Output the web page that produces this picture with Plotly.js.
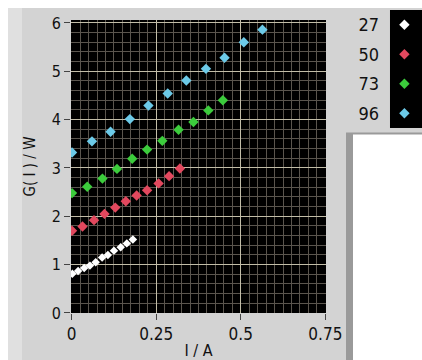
<!DOCTYPE html>
<html>
<head>
<meta charset="utf-8">
<script src="https://cdn.plot.ly/plotly-3.0.1.min.js"></script>
<style>
  html, body { margin: 0; padding: 0; background: #ffffff; width: 422px; height: 360px; overflow: hidden; }
  #chart { position: absolute; left: 8px; top: 8px; width: 414px; height: 352px; }
</style>
</head>
<body>
<div id="chart"></div>
<script>
// Series labels (legend)
const seriesNames = ['27', '50', '73', '96'];
const seriesColors = ['#ffffff', '#e2485e', '#3ccc3c', '#6ccae8'];
const seriesSizes = [6.5, 8, 8, 8];

// I / A values for each series
const x27 = [0.002, 0.019, 0.037, 0.054, 0.071, 0.090, 0.107, 0.125, 0.145, 0.163, 0.181];
const x50 = [0.001, 0.032, 0.066, 0.097, 0.129, 0.160, 0.192, 0.223, 0.257, 0.288, 0.320];
const x73 = [0.001, 0.046, 0.091, 0.134, 0.179, 0.223, 0.268, 0.316, 0.360, 0.404, 0.447];
const x96 = [0.001, 0.060, 0.115, 0.172, 0.227, 0.284, 0.339, 0.397, 0.452, 0.509, 0.564];

// G(I) / W values for each series
const y27 = [0.81, 0.87, 0.93, 0.98, 1.05, 1.15, 1.20, 1.29, 1.36, 1.44, 1.52];
const y50 = [1.70, 1.79, 1.92, 2.05, 2.18, 2.31, 2.43, 2.54, 2.68, 2.83, 2.99];
const y73 = [2.48, 2.61, 2.78, 2.98, 3.19, 3.38, 3.56, 3.79, 3.95, 4.19, 4.40];
const y96 = [3.32, 3.55, 3.75, 4.01, 4.29, 4.54, 4.81, 5.05, 5.28, 5.60, 5.86];

// Axis tick labels
const xTickVals = [0, 0.25, 0.5, 0.75];
const xTickText = ['0', '0.25', '0.5', '0.75'];
const yTickVals = [0, 1, 2, 3, 4, 5, 6];
const yTickText = ['0', '1', '2', '3', '4', '5', '6'];

const xs = [x27, x50, x73, x96];
const ys = [y27, y50, y73, y96];

const FONT = '"Liberation Sans Narrow", "Arial Narrow", "DejaVu Sans Condensed", sans-serif';

const traces = [];
seriesNames.forEach((name, i) => {
  traces.push({
    type: 'scatter', mode: 'markers', name: name,
    x: xs[i], y: ys[i], xaxis: 'x', yaxis: 'y',
    marker: { symbol: 'diamond', size: seriesSizes[i], color: seriesColors[i], line: { width: 0 } },
    showlegend: false, hoverinfo: 'x+y'
  });
});
// legend samples (one marker per series row in the legend box)
seriesNames.forEach((name, i) => {
  traces.push({
    type: 'scatter', mode: 'markers', name: name,
    x: [0.45], y: [name], xaxis: 'x2', yaxis: 'y2',
    marker: { symbol: 'diamond', size: 8, color: seriesColors[i], line: { width: 0 } },
    showlegend: false, hoverinfo: 'skip'
  });
});

const layout = {
  width: 414, height: 352,
  margin: { l: 63, r: 0, t: 2, b: 47, pad: 0 },
  paper_bgcolor: '#d3d3d3',
  plot_bgcolor: '#000000',
  font: { family: FONT, color: '#111111', size: 15 },
  showlegend: false,
  xaxis: {
    domain: [0, 0.7265],
    range: [-0.002, 0.752],
    tickvals: xTickVals, ticktext: xTickText,
    ticks: 'outside', ticklen: 6, tickwidth: 1, tickcolor: '#444444',
    tickfont: { size: 17, family: FONT, color: '#111111' },
    showgrid: true, gridcolor: '#c2bda8', gridwidth: 1,
    zeroline: false, showline: false,
    minor: { dtick: 0.025, showgrid: true, gridcolor: '#5a554e', gridwidth: 1, ticks: '' },
    title: { text: 'I / A', font: { size: 16, family: FONT, color: '#111111' }, standoff: 13 },
    fixedrange: true
  },
  yaxis: {
    domain: [0, 0.967],
    range: [0, 6.06],
    tickvals: yTickVals, ticktext: yTickText,
    ticks: 'outside', ticklen: 6, tickwidth: 1, tickcolor: '#444444',
    tickfont: { size: 16, family: FONT, color: '#111111' },
    showgrid: true, gridcolor: '#c2bda8', gridwidth: 1,
    zeroline: false, showline: false,
    minor: { dtick: 0.2, showgrid: true, gridcolor: '#5a554e', gridwidth: 1, ticks: '' },
    title: { text: 'G( I ) / W', font: { size: 15, family: FONT, color: '#111111' }, standoff: 12 },
    fixedrange: true
  },
  xaxis2: {
    domain: [0.9088, 1], range: [0, 1], anchor: 'y2',
    visible: false, fixedrange: true
  },
  yaxis2: {
    domain: [0.6106, 1.0], anchor: 'x2',
    type: 'category', categoryorder: 'array', categoryarray: seriesNames.slice().reverse(),
    range: [-0.5, 3.5],
    showgrid: false, zeroline: false, showline: false, ticks: '',
    ticklabelstandoff: 10,
    tickfont: { size: 18, family: FONT, color: '#111111' },
    fixedrange: true
  },
  shapes: [
    // lighter strip along the left of the panel
    { type: 'rect', xref: 'paper', yref: 'paper', x0: -0.1795, x1: -0.1396, y0: -0.16, y1: 1.04,
      fillcolor: '#e0e0e0', line: { width: 0 }, layer: 'below' },
    // frame below the legend
    { type: 'rect', xref: 'paper', yref: 'paper', x0: 0.7835, x1: 1.01, y0: -0.16, y1: 0.5957,
      fillcolor: '#9a9a9a', line: { width: 0 }, layer: 'below' },
    { type: 'rect', xref: 'paper', yref: 'paper', x0: 0.8034, x1: 1.01, y0: -0.16, y1: 0.5891,
      fillcolor: '#ffffff', line: { width: 0 }, layer: 'below' }
  ]
};

Plotly.newPlot('chart', traces, layout, { staticPlot: true, displayModeBar: false });
</script>
</body>
</html>
